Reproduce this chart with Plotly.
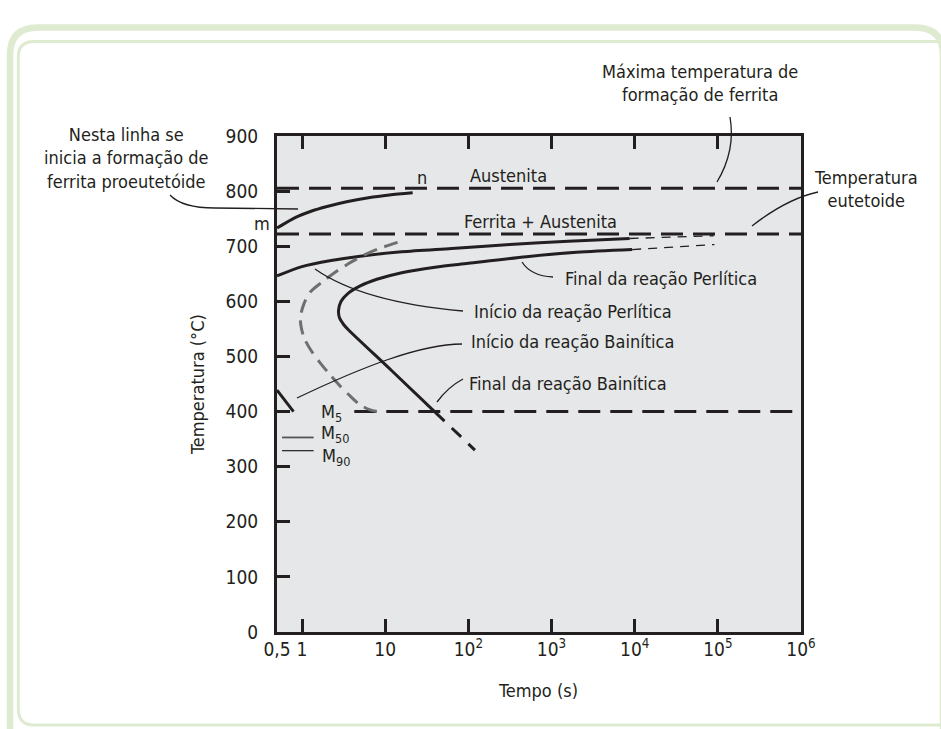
import plotly.graph_objects as go

# ---------------- data (time in s, temperature in °C) ----------------
ferrite_start_t = [0.5, 0.63, 0.89, 1.26, 2.0, 3.55, 6.3, 11.2, 21.4]
ferrite_start_T = [733, 742, 754, 763, 772, 781, 788, 793, 797]

pearlite_start_t = [0.5, 1.0, 2.24, 5.0, 15.8, 63, 316, 1585, 8700]
pearlite_start_T = [646, 663, 674, 682, 690, 696, 703, 709, 714]
pearlite_start_ext_t = [8700, 89000]
pearlite_start_ext_T = [714, 719]

# pearlite finish + bainite finish (C curve, traced from the right end round the nose)
finish_t = [9330, 1995, 501, 100, 39.8, 15.8, 7.94, 5.01, 3.55, 2.95, 2.75, 2.82, 3.16, 3.63, 12.0, 39.8]
finish_T = [694, 689, 681, 669, 662, 652, 640, 628, 614, 600, 584, 570, 558, 548, 474, 399]
pearlite_finish_ext_t = [9330, 91000]
pearlite_finish_ext_T = [694, 703]
bainite_finish_ext_t = [39.8, 120]
bainite_finish_ext_T = [399, 330]

# grey dashed start curve
grey_t = [14.1, 8.91, 6.17, 3.98, 2.63, 1.78, 1.26, 1.05, 0.955, 0.98, 1.07, 1.32, 1.66, 2.19, 2.88, 3.80, 5.01, 6.61, 8.91]
grey_T = [707, 697, 687, 672, 655, 636, 617, 595, 570, 552, 532, 508, 488, 466, 446, 428, 412, 403, 399]

martensite_t = [0.5, 0.79]
martensite_T = [439, 400]
m50_t = [0.575, 1.38]
m50_T = [353, 353]
m90_t = [0.575, 1.38]
m90_T = [329, 329]

austenite_T = 805
eutectoid_T = 722
ms_T = 400
ms_line_start_t = 4.25
t_min, t_max = 0.5, 1e6

x_tickvals = [0.5, 1, 10, 100, 1e3, 1e4, 1e5, 1e6]
x_ticktext = ["0,5", "1", "10", "10<sup>2</sup>", "10<sup>3</sup>", "10<sup>4</sup>", "10<sup>5</sup>", "10<sup>6</sup>"]
y_tickvals = [0, 100, 200, 300, 400, 500, 600, 700, 800, 900]

# ---------------- layout geometry ----------------
W, H = 941, 729
L, R, T, B = 277, 801, 136, 632
FONT = "Liberation Sans Narrow, Arial Narrow, DejaVu Sans Condensed, Roboto Condensed, Roboto, sans-serif"
INK = "#231f20"
GREEN = "#dfebd0"


def px(x):
    return (x - L) / (R - L)


def py(y):
    return (B - y) / (B - T)


def P(x, y):
    return f"{px(x):.5f},{py(y):.5f}"


fig = go.Figure()


def line(x, y, width=3, color=INK, dash=None, spline=False):
    fig.add_trace(go.Scatter(
        x=x, y=y, mode="lines", hoverinfo="skip", showlegend=False,
        line=dict(width=width, color=color, dash=dash,
                  shape="spline" if spline else "linear", smoothing=0.8)))


# horizontal dashed boundaries
line([t_min, t_max], [austenite_T] * 2, width=3, dash="22px,10px")
line([t_min, t_max], [eutectoid_T] * 2, width=3, dash="22px,10px")
line([ms_line_start_t, t_max], [ms_T] * 2, width=3, dash="22px,10px")

# curves
line(ferrite_start_t, ferrite_start_T, spline=True)
line(pearlite_start_t, pearlite_start_T, spline=True)
line(pearlite_start_ext_t, pearlite_start_ext_T, width=1.3, dash="9px,7px")
line(finish_t, finish_T, spline=True)
line(pearlite_finish_ext_t, pearlite_finish_ext_T, width=1.3, dash="9px,7px")
line(bainite_finish_ext_t, bainite_finish_ext_T, width=3, dash="13px,10px")
line(grey_t, grey_T, width=3, color="#6f6f6f", dash="14px,8px", spline=True)
line(martensite_t, martensite_T, width=3)
line(m50_t, m50_T, width=1.8, color="#555555")
line(m90_t, m90_T, width=1.2)

# ---------------- leader lines & border (paper coords) ----------------
shapes = []
leaders = [
    f"M{P(170,195)} Q{P(182,208)} {P(215,208)} L{P(298,209)}",
    f"M{P(730,117)} C{P(734,140)} {P(729,162)} {P(717,182)}",
    f"M{P(818,192)} C{P(795,197)} {P(775,208)} {P(752,226)}",
    f"M{P(522,262)} Q{P(531,276)} {P(553,277)}",
    f"M{P(315,269)} C{P(345,290)} {P(395,305)} {P(463,311)}",
    f"M{P(297,398)} C{P(360,368)} {P(420,344)} {P(462,344)}",
    f"M{P(437,402)} Q{P(448,387)} {P(463,379)}",
]
for p in leaders:
    shapes.append(dict(type="path", path=p, xref="paper", yref="paper",
                       line=dict(color=INK, width=1.3)))

border_outer = f"M{P(10,740)} L{P(10,55)} Q{P(10,27.5)} {P(38,27.5)} L{P(915,27.5)} Q{P(943,27.5)} {P(943,55)} L{P(943,740)}"
border_inner = (f"M{P(950,41.5)} L{P(34,41.5)} Q{P(18.3,41.5)} {P(18.3,57)} "
                f"L{P(18.3,709)} Q{P(18.3,725)} {P(34,725)} L{P(950,725)}")
shapes.append(dict(type="path", path=border_outer, xref="paper", yref="paper",
                   line=dict(color=GREEN, width=6.5), layer="below"))
shapes.append(dict(type="path", path=border_inner, xref="paper", yref="paper",
                   line=dict(color=GREEN, width=3), layer="below"))

# ---------------- text ----------------
ann = []


def text(s, x, y, xanchor="center", size=18, angle=0, align="center"):
    ann.append(dict(text=s, x=px(x), y=py(y), xref="paper", yref="paper",
                    xanchor=xanchor, yanchor="middle", showarrow=False,
                    textangle=angle, align=align,
                    font=dict(family=FONT, size=size, color=INK)))


text("Nesta linha se<br>inicia a formação de<br>ferrita proeutetóide", 126, 157.5)
text("Máxima temperatura de<br>formação de ferrita", 700, 83)
text("Temperatura<br>eutetoide", 866, 189)
text("Austenita", 508, 175)
text("Ferrita + Austenita", 540, 221)
text("n", 422, 177)
text("m", 262, 223)
text("Final da reação Perlítica", 563, 278, xanchor="left")
text("Início da reação Perlítica", 472, 311, xanchor="left")
text("Início da reação Bainítica", 469, 341, xanchor="left")
text("Final da reação Bainítica", 467, 383, xanchor="left")
text("M<sub>5</sub>", 319, 413, xanchor="left")
text("M<sub>50</sub>", 319, 434, xanchor="left")
text("M<sub>90</sub>", 320, 457, xanchor="left")
text("Tempo (s)", 538, 690)
text("Temperatura (°C)", 197, 385, angle=-90)

axis_common = dict(showline=True, linewidth=3, linecolor=INK, ticks="inside",
                   ticklen=13, tickwidth=3, tickcolor=INK, showgrid=False,
                   zeroline=False, tickfont=dict(family=FONT, size=19, color=INK))

fig.update_layout(
    width=W, height=H,
    margin=dict(l=L, r=W - R, t=T, b=H - B, pad=0),
    paper_bgcolor="white", plot_bgcolor="#e6e7e8",
    xaxis=dict(type="log", range=[-0.30103, 6], tickvals=x_tickvals,
               ticktext=x_ticktext, mirror="ticks", ticklabelstandoff=-2,
               **axis_common),
    yaxis=dict(range=[0, 900], tickvals=y_tickvals, mirror=True,
               ticklabelstandoff=12, **axis_common),
    shapes=shapes, annotations=ann, showlegend=False,
)

fig.write_html("out.html", config={"displayModeBar": False},
               post_script="document.body.style.margin='0';")
